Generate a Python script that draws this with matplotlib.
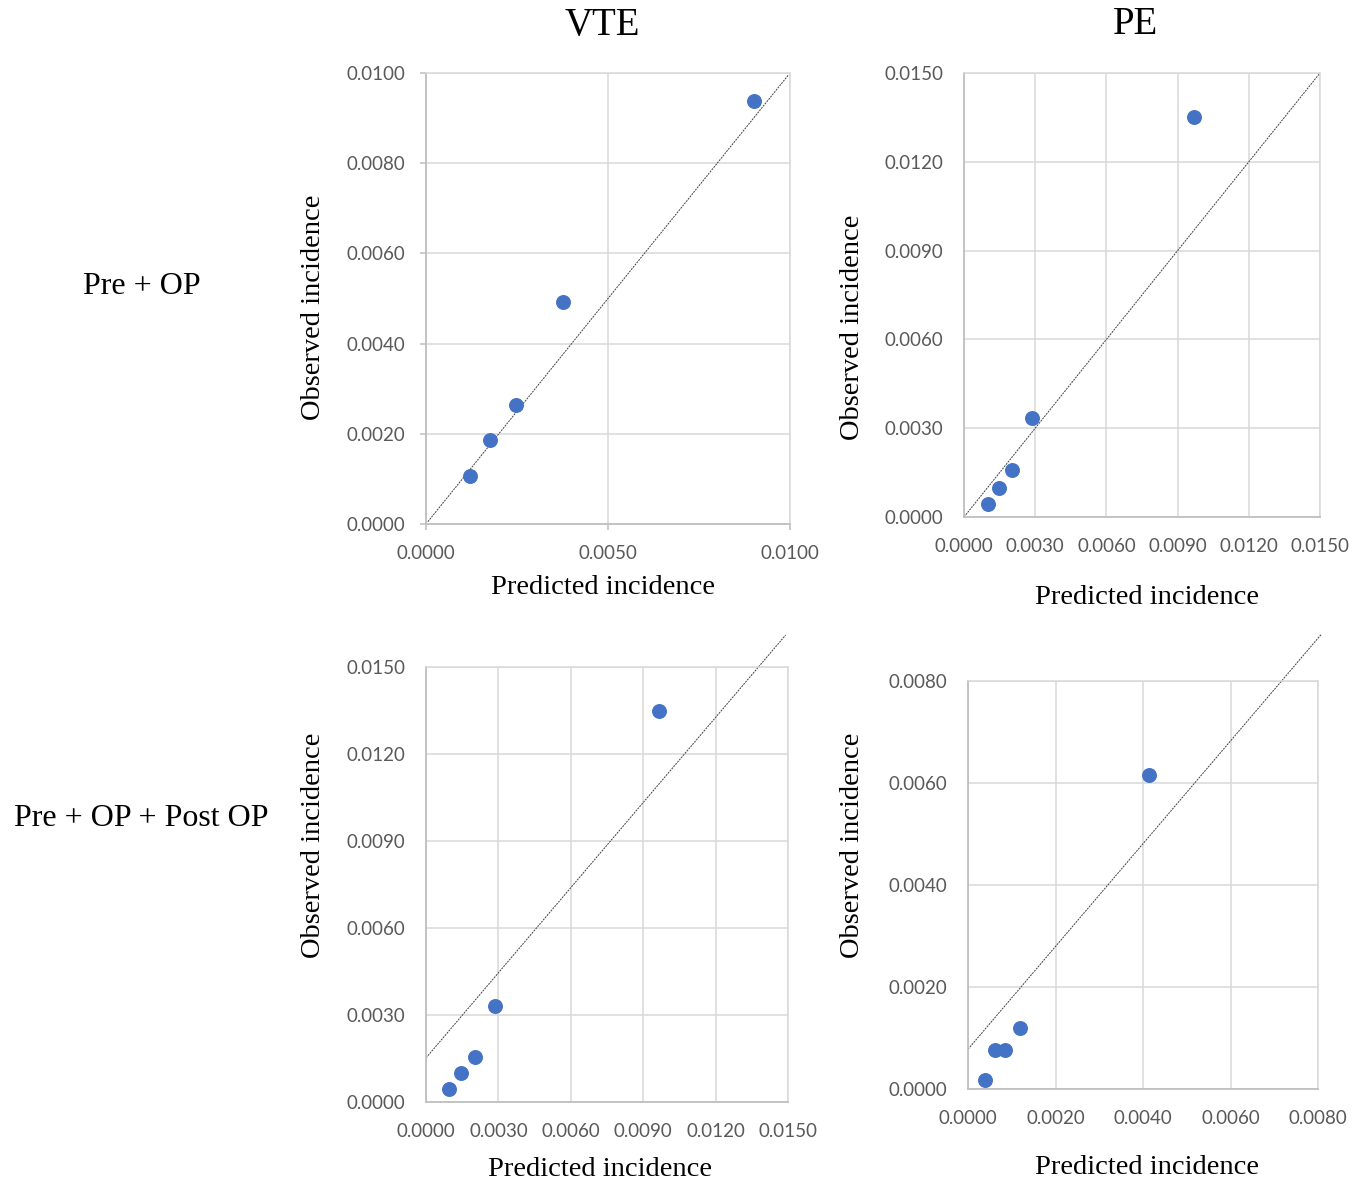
import numpy as np
import matplotlib
matplotlib.use('Agg')
import matplotlib.pyplot as plt
from matplotlib.ticker import FormatStrFormatter

W, H = 1357, 1182

# data
vte_pre_x = [0.00121, 0.00176, 0.00247, 0.00375, 0.00901]
vte_pre_y = [0.00107, 0.00186, 0.00263, 0.00492, 0.00939]
pe_pre_x = [0.00101, 0.00149, 0.00202, 0.00288, 0.00970]
pe_pre_y = [0.00045, 0.00097, 0.00159, 0.00335, 0.01353]
vte_post_x = [0.00097, 0.00145, 0.00203, 0.00286, 0.00967]
vte_post_y = [0.00046, 0.00101, 0.00156, 0.00331, 0.01347]
pe_post_x = [0.00038, 0.00062, 0.00084, 0.00118, 0.00413]
pe_post_y = [0.00018, 0.00077, 0.00077, 0.00119, 0.00616]

# dashed reference lines (x0, y0, x1, y1)
vte_pre_ref = [0.00005, 0.00005, 0.00995, 0.00995]
pe_pre_ref = [0.0, 0.0, 0.0150, 0.0150]
vte_post_ref = [0.0, 0.00152, 0.0149, 0.0161]
pe_post_ref = [0.0, 0.00078, 0.00807, 0.00891]

vte_pre_ticks_x = [0.0, 0.005, 0.010]
vte_pre_ticks_y = [0.0, 0.002, 0.004, 0.006, 0.008, 0.010]
ticks_15 = [0.0, 0.003, 0.006, 0.009, 0.012, 0.015]
ticks_8 = [0.0, 0.002, 0.004, 0.006, 0.008]

col_titles = ['VTE', 'PE']
row_titles = ['Pre + OP', 'Pre + OP + Post OP']

serif = 'Liberation Serif'
sans = 'Lato'
blue = '#4472C4'
grid_c = '#d9d9d9'
tick_c = '#595959'

fig = plt.figure(figsize=(W / 100, H / 100), dpi=100)

def px_axes(l, t, r, b):
    return fig.add_axes([l / W, 1 - b / H, (r - l) / W, (b - t) / H])

def fig_text(x, y, s, **kw):
    fig.text(x / W, 1 - y / H, s, ha='center', va='center', **kw)

def style(ax, xt, yt, ticklen):
    ax.set_xlim(xt[0], xt[-1])
    ax.set_ylim(yt[0], yt[-1])
    ax.set_xticks(xt)
    ax.set_yticks(yt)
    ax.xaxis.set_major_formatter(FormatStrFormatter('%.4f'))
    ax.yaxis.set_major_formatter(FormatStrFormatter('%.4f'))
    ax.grid(True, color=grid_c, lw=1.1)
    ax.set_axisbelow(True)
    for s in ['top', 'right']:
        ax.spines[s].set_color(grid_c)
        ax.spines[s].set_linewidth(1.1)
    for s in ['left', 'bottom']:
        ax.spines[s].set_color('#bfbfbf')
        ax.spines[s].set_linewidth(1.3)
    ax.tick_params(axis='both', length=ticklen, width=1.1, color='#bfbfbf',
                   labelsize=13.5, labelcolor=tick_c, direction='out')
    ax.tick_params(axis='x', pad=15 - ticklen)
    ax.tick_params(axis='y', pad=15 - ticklen)
    for lab in ax.get_xticklabels() + ax.get_yticklabels():
        lab.set_fontfamily(sans)

def draw(ax, xs, ys, ref):
    ax.plot([ref[0], ref[2]], [ref[1], ref[3]], color='#404040', lw=0.7,
            linestyle=(0, (2, 1)), clip_on=False, zorder=2)
    ax.scatter(xs, ys, s=95, color=blue, zorder=3, clip_on=False)

ax1 = px_axes(426, 73, 790, 524)
style(ax1, vte_pre_ticks_x, vte_pre_ticks_y, 4)
draw(ax1, vte_pre_x, vte_pre_y, vte_pre_ref)

ax2 = px_axes(964, 73, 1320, 517)
style(ax2, ticks_15, ticks_15, 0)
draw(ax2, pe_pre_x, pe_pre_y, pe_pre_ref)

ax3 = px_axes(426, 667, 788, 1102)
style(ax3, ticks_15, ticks_15, 0)
draw(ax3, vte_post_x, vte_post_y, vte_post_ref)

ax4 = px_axes(968, 681, 1318, 1089)
style(ax4, ticks_8, ticks_8, 0)
draw(ax4, pe_post_x, pe_post_y, pe_post_ref)

# column and row titles
fig_text(602, 25, col_titles[0], family=serif, fontsize=28)
fig_text(1135, 25, col_titles[1], family=serif, fontsize=28)
fig_text(142, 287, row_titles[0], family=serif, fontsize=23)
fig_text(141, 819, row_titles[1], family=serif, fontsize=23)

# axis labels
for x, y in [(603, 588), (1147, 598), (600, 1169), (1147, 1168)]:
    fig_text(x, y, 'Predicted incidence', family=serif, fontsize=20.5)
for x, y in [(314, 307), (852, 327), (314, 845), (852, 845)]:
    fig_text(x, y, 'Observed incidence', family=serif, fontsize=20.5, rotation=90)

fig.savefig('out.png', dpi=100)
